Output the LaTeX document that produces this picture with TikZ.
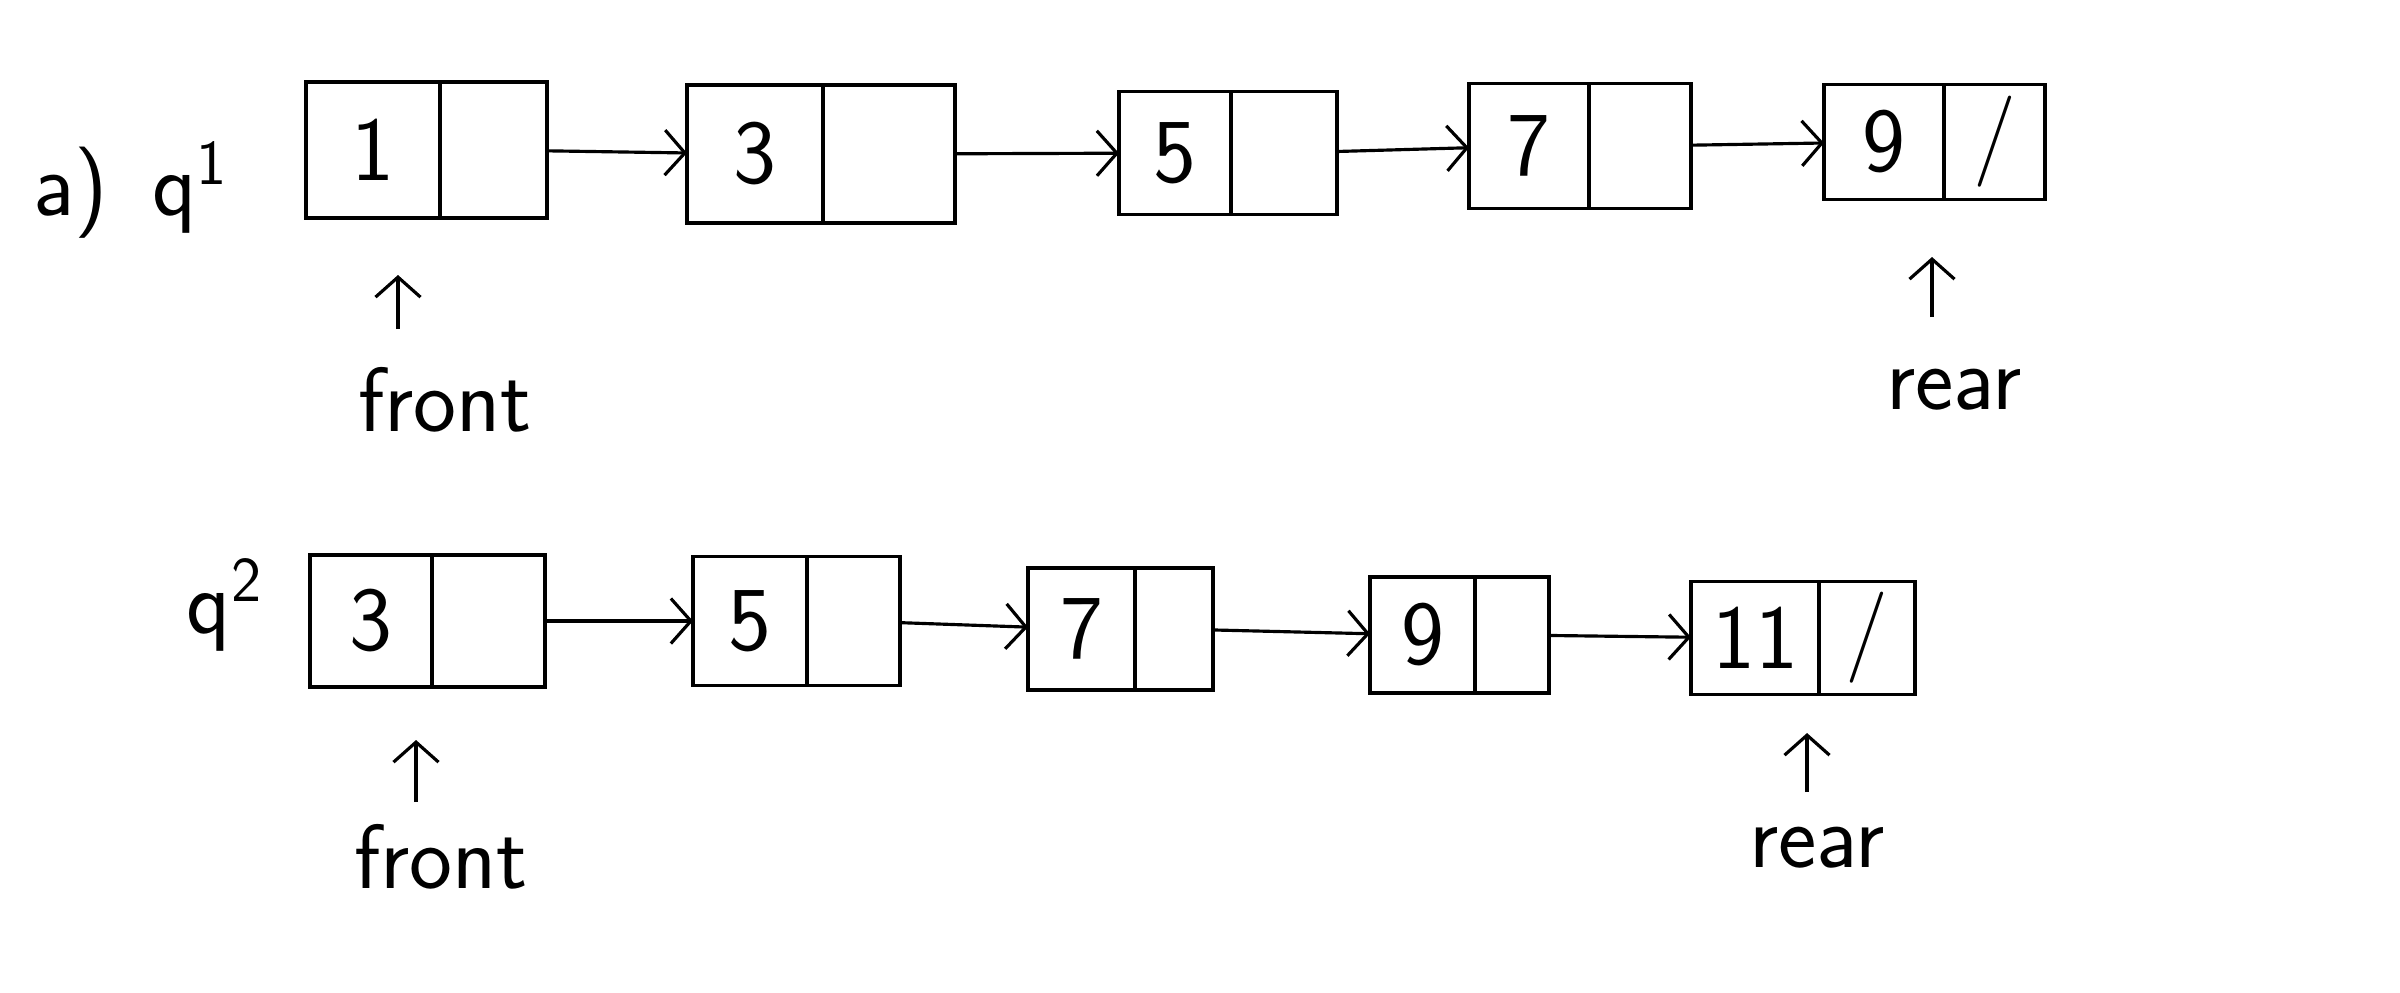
\documentclass[tikz,border=0pt]{standalone}
\usetikzlibrary{positioning,arrows.meta}

\newcommand{\hand}{\sffamily\fontsize{26}{30}\selectfont}
\newcommand{\nilmark}{/}
\tikzset{
  cell/.style={draw, line width=1pt, outer sep=0pt, inner sep=0pt, font=\hand},
  link/.style={-{Straight Barb[length=2mm,width=4.5mm]}, line width=0.9pt},
  tag/.style={font=\hand},
}

\begin{document}
\begin{tikzpicture}
\useasboundingbox (0,0) rectangle (24,-9.92);

% queue q1
\node[tag] (lab1) at (1.31,-1.90) {a)\, q\textsuperscript{1}};
\foreach \v/\x/\y/\w/\u/\h/\s in {1/3.06/1.50/1.34/1.07/1.36/{}, 3/6.87/1.54/1.36/1.32/1.38/{}, 5/11.19/1.53/1.12/1.06/1.23/{}, 7/14.69/1.46/1.20/1.02/1.25/{}, 9/18.24/1.42/1.20/1.01/1.15/\nilmark}
{
  \node[cell, anchor=west, minimum width=\w cm, minimum height=\h cm] (ta\v) at (\x,-\y) {\v};
  \node[cell, right=0pt of ta\v, minimum width=\u cm, minimum height=\h cm] (pa\v) {\s};
}
\foreach \a/\b in {1/3,3/5,5/7,7/9}
  \draw[link] (pa\a) -- (ta\b);

\node[tag] (fronta) at (4.45,-4.00) {front};
\coordinate (fa1) at (3.98,-3.29);
\coordinate (fa2) at (3.98,-2.75);
\draw[link] (fa1) -- (fa2);
\node[tag] (reara) at (19.54,-3.90) {rear};
\coordinate (ra1) at (19.32,-3.17);
\coordinate (ra2) at (19.32,-2.57);
\draw[link] (ra1) -- (ra2);

% queue q2
\node[tag] (lab2) at (2.25,-6.05) {q\textsuperscript{2}};
\foreach \v/\x/\y/\w/\u/\h/\s in {3/3.10/6.21/1.22/1.13/1.32/{}, 5/6.93/6.21/1.14/0.93/1.29/{}, 7/10.28/6.29/1.07/0.78/1.22/{}, 9/13.70/6.35/1.05/0.74/1.16/{}, 11/16.91/6.38/1.28/0.96/1.13/\nilmark}
{
  \node[cell, anchor=west, minimum width=\w cm, minimum height=\h cm] (tb\v) at (\x,-\y) {\v};
  \node[cell, right=0pt of tb\v, minimum width=\u cm, minimum height=\h cm] (pb\v) {\s};
}
\foreach \a/\b in {3/5,5/7,7/9,9/11}
  \draw[link] (pb\a) -- (tb\b);

\node[tag] (frontb) at (4.41,-8.57) {front};
\coordinate (fb1) at (4.16,-8.02);
\coordinate (fb2) at (4.16,-7.40);
\draw[link] (fb1) -- (fb2);
\node[tag] (rearb) at (18.17,-8.48) {rear};
\coordinate (rb1) at (18.07,-7.92);
\coordinate (rb2) at (18.07,-7.33);
\draw[link] (rb1) -- (rb2);
\end{tikzpicture}
\end{document}
